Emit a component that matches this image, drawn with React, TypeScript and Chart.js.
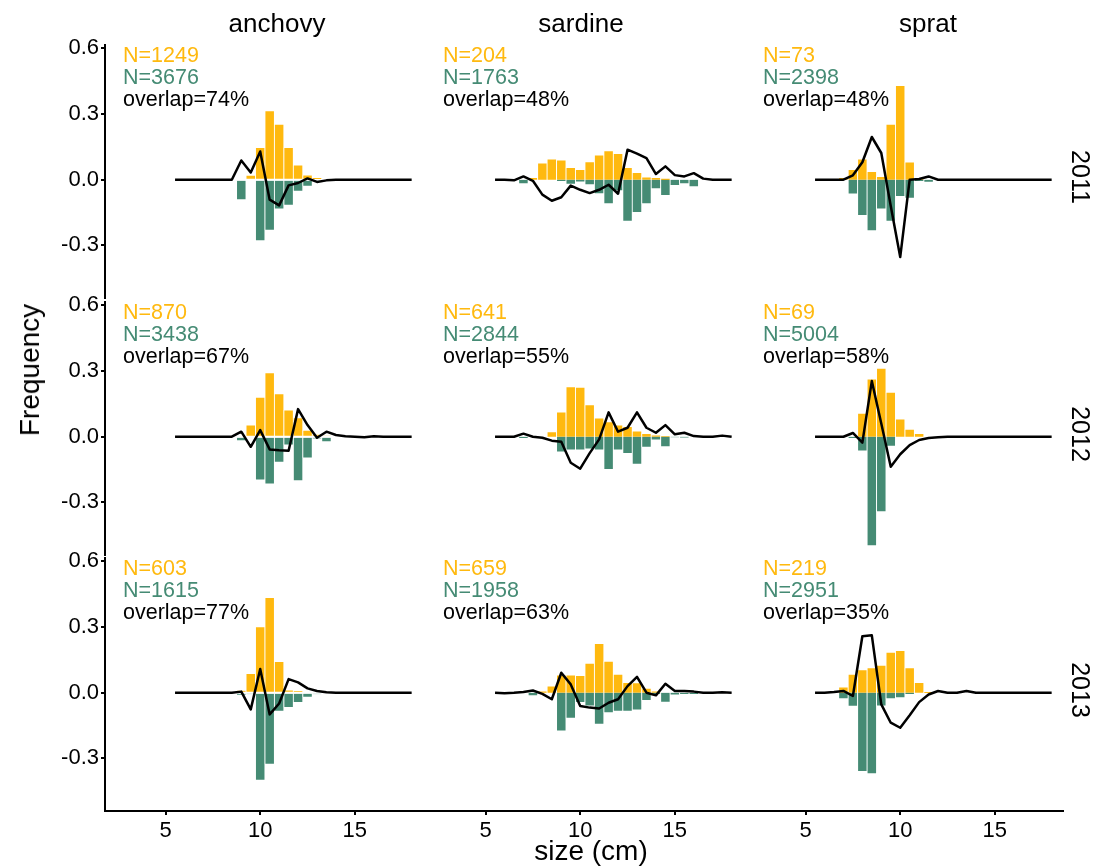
import React, { useEffect, useRef } from 'react';
import { Chart, registerables } from 'chart.js';

Chart.register(...registerables);

// ---------- data ----------
const sizes = [5.5, 6, 6.5, 7, 7.5, 8, 8.5, 9, 9.5, 10, 10.5, 11, 11.5, 12, 12.5, 13, 13.5, 14, 14.5, 15, 15.5, 16, 16.5, 17, 17.5, 18];
const species = ['anchovy', 'sardine', 'sprat'];
const years = ['2011', '2012', '2013'];
const xTicks = [5, 10, 15];
const yTicks = [-0.3, 0, 0.3, 0.6];

// panel order: row-major (year rows, species columns)
const nYellow = [1249, 204, 73, 870, 641, 69, 603, 659, 219];
const nGreen = [3676, 1763, 2398, 3438, 2844, 5004, 1615, 1958, 2951];
const overlaps = [74, 48, 48, 67, 55, 58, 77, 63, 35];

const anchovy2011Yellow = [0, 0, 0, 0, 0, 0, 0, 0, 0.02, 0.147, 0.315, 0.253, 0.147, 0.067, 0.021, 0.009, 0, 0, 0, 0, 0, 0, 0, 0, 0, 0];
const anchovy2011Green = [0, 0, 0, 0, 0, 0, 0, -0.091, 0, -0.279, -0.23, -0.134, -0.117, -0.053, -0.03, -0.005, 0, 0, 0, 0, 0, 0, 0, 0, 0, 0];
const anchovy2011Line = [0, 0, 0, 0, 0, 0, 0, 0.088, 0.033, 0.129, -0.091, -0.117, -0.026, -0.015, 0.006, -0.01, -0.003, 0, 0, 0, 0, 0, 0, 0, 0, 0];

const sardine2011Yellow = [0, 0, 0, 0, 0.01, 0.076, 0.094, 0.09, 0.056, 0.046, 0.082, 0.113, 0.132, 0.119, 0.056, 0.033, 0.012, 0.01, 0.006, 0, 0, 0, 0, 0, 0, 0];
const sardine2011Green = [0, 0, 0, -0.018, 0, 0, 0, -0.008, -0.02, -0.01, -0.023, -0.064, -0.11, -0.05, -0.19, -0.149, -0.11, -0.041, -0.072, -0.026, -0.018, -0.032, 0, 0, 0, 0];
const sardine2011Line = [0, 0, -0.003, 0.015, -0.005, -0.068, -0.096, -0.08, -0.027, -0.046, -0.061, -0.046, -0.023, -0.064, 0.137, 0.119, 0.099, 0.026, 0.061, 0.021, 0.015, 0.03, 0.005, 0, 0, 0];

const sprat2011Yellow = [0, 0, 0, 0.01, 0.046, 0.094, 0.037, 0.015, 0.253, 0.43, 0.081, 0.005, 0, 0, 0, 0, 0, 0, 0, 0, 0, 0, 0, 0, 0, 0];
const sprat2011Green = [0, 0, 0, 0, -0.065, -0.163, -0.233, -0.134, -0.19, -0.076, -0.084, -0.008, -0.012, 0, 0, 0, 0, 0, 0, 0, 0, 0, 0, 0, 0, 0];
const sprat2011Line = [0, 0, 0, 0, 0.02, 0.08, 0.195, 0.122, -0.12, -0.353, 0, 0.003, 0.015, 0, 0, 0, 0, 0, 0, 0, 0, 0, 0, 0, 0, 0];

const anchovy2012Yellow = [0, 0, 0, 0, 0, 0, 0, 0, 0.053, 0.18, 0.292, 0.196, 0.122, 0.087, 0.029, 0.01, 0.004, 0, 0, 0, 0, 0, 0, 0, 0, 0];
const anchovy2012Green = [0, 0, 0, 0, 0, 0, 0, -0.018, 0, -0.198, -0.216, -0.117, -0.038, -0.201, -0.097, -0.008, -0.023, 0, 0, 0, 0, 0, 0, 0, 0, 0];
const anchovy2012Line = [0, 0, 0, 0, 0, 0, 0, 0.023, -0.046, 0.03, -0.058, -0.062, -0.064, 0.126, 0.053, -0.005, 0.023, 0.008, 0.002, 0, -0.002, 0.002, 0, 0, 0, 0];

const sardine2012Yellow = [0, 0, 0, 0, 0, 0, 0.023, 0.113, 0.228, 0.226, 0.146, 0.085, 0.068, 0.053, 0.046, 0.026, 0.015, 0.008, 0.003, 0, 0, 0, 0, 0, 0, 0];
const sardine2012Green = [0, 0, 0, -0.008, 0, 0, 0, -0.07, -0.061, -0.061, -0.056, -0.061, -0.149, -0.061, -0.076, -0.125, -0.048, -0.015, -0.046, -0.003, -0.005, 0, 0, 0, 0, 0];
const sardine2012Line = [0, 0, 0, 0.014, 0, -0.005, -0.018, -0.023, -0.119, -0.146, -0.075, -0.012, 0.111, 0.023, 0.041, 0.111, 0.041, 0.018, 0.053, 0.011, 0.018, 0.003, 0, 0, 0.005, 0];

const sprat2012Yellow = [0, 0, 0, 0, 0, 0.107, 0.263, 0.312, 0.203, 0.081, 0.034, 0.014, 0, 0, 0, 0, 0, 0, 0, 0, 0, 0, 0, 0, 0, 0];
const sprat2012Green = [0, 0, 0, 0, -0.008, -0.065, -0.498, -0.342, -0.043, 0, 0, 0, 0, 0, 0, 0, 0, 0, 0, 0, 0, 0, 0, 0, 0, 0];
const sprat2012Line = [0, 0, 0, 0, 0.017, -0.027, 0.254, 0.06, -0.137, -0.08, -0.038, -0.015, -0.006, -0.003, 0, 0, 0, 0, 0, 0, 0, 0, 0, 0, 0, 0];

const anchovy2013Yellow = [0, 0, 0, 0, 0, 0, 0, 0.01, 0.088, 0.301, 0.435, 0.142, 0.012, 0.006, 0, 0, 0, 0, 0, 0, 0, 0, 0, 0, 0, 0];
const anchovy2013Green = [0, 0, 0, 0, 0, 0, 0, -0.011, -0.006, -0.399, -0.327, -0.085, -0.067, -0.044, -0.02, -0.006, 0, 0, 0, 0, 0, 0, 0, 0, 0, 0];
const anchovy2013Line = [0, 0, 0, 0, 0, 0, 0, 0.005, -0.076, 0.108, -0.099, -0.049, 0.062, 0.047, 0.02, 0.008, 0.002, 0, 0, 0, 0, 0, 0, 0, 0, 0];

const sardine2013Yellow = [0, 0, 0, 0, 0, 0.008, 0.031, 0.081, 0.081, 0.079, 0.134, 0.224, 0.143, 0.084, 0.046, 0.045, 0.02, 0.008, 0, 0, 0, 0, 0, 0, 0, 0];
const sardine2013Green = [0, 0, 0, 0, -0.014, 0, 0, -0.175, -0.117, -0.045, -0.06, -0.144, -0.091, -0.084, -0.084, -0.079, -0.035, -0.008, -0.043, -0.01, -0.008, -0.008, 0, 0, 0, 0];
const sardine2013Line = [0, -0.002, 0, 0.003, 0.01, -0.005, -0.03, 0.091, 0.038, -0.061, -0.068, -0.072, -0.046, -0.03, 0.03, 0.072, 0, -0.012, 0.041, 0.008, 0.008, 0.005, 0, 0, 0.002, 0];

const sprat2013Yellow = [0, 0, 0, 0.026, 0.084, 0.105, 0.114, 0.125, 0.185, 0.193, 0.114, 0.046, 0.004, 0, 0, 0, 0, 0, 0, 0, 0, 0, 0, 0, 0, 0];
const sprat2013Green = [0, 0, 0, -0.027, -0.062, -0.359, -0.37, -0.061, -0.027, -0.023, -0.008, 0, 0, 0, 0, 0, 0, 0, 0, 0, 0, 0, 0, 0, 0, 0];
const sprat2013Line = [0, 0, 0.003, 0.008, -0.015, 0.258, 0.262, -0.053, -0.137, -0.16, -0.103, -0.043, -0.008, 0.008, 0, 0, 0.008, 0, 0, 0, 0, 0, 0, 0, 0, 0];

const yellowSeries = [anchovy2011Yellow, sardine2011Yellow, sprat2011Yellow, anchovy2012Yellow, sardine2012Yellow, sprat2012Yellow, anchovy2013Yellow, sardine2013Yellow, sprat2013Yellow];
const greenSeries = [anchovy2011Green, sardine2011Green, sprat2011Green, anchovy2012Green, sardine2012Green, sprat2012Green, anchovy2013Green, sardine2013Green, sprat2013Green];
const lineSeries = [anchovy2011Line, sardine2011Line, sprat2011Line, anchovy2012Line, sardine2012Line, sprat2012Line, anchovy2013Line, sardine2013Line, sprat2013Line];

// ---------- layout / style ----------
const YELLOW = '#FFB90F';
const GREEN = '#458B74';
const FONT = '"Liberation Sans", Arial, Helvetica, sans-serif';
const X_MIN = 1.8, X_MAX = 18.6, Y_MIN = -0.54, Y_MAX = 0.615;
const colLeft = [105, 425, 745];
const rowTop = [45, 302, 558];
const PW = 318, PH = 253, M = 16, YW = 50, XH = 40;
const stripCenters = [277, 581, 928];

function Panel({ idx }: { idx: number }) {
  const ref = useRef<HTMLCanvasElement | null>(null);
  const r = Math.floor(idx / 3);
  const c = idx % 3;
  const showY = c === 0;
  const showX = r === 2;
  const left = colLeft[c] - M - (showY ? YW : 0);
  const top = rowTop[r] - M;
  const w = PW + 2 * M + (showY ? YW : 0);
  const h = PH + 2 * M + (showX ? XH : 0);

  useEffect(() => {
    if (!ref.current) return;
    const chart = new Chart(ref.current, {
      type: 'bar',
      data: {
        datasets: [
          {
            type: 'line',
            data: sizes.map((x, i) => ({ x, y: lineSeries[idx][i] })),
            borderColor: '#000',
            borderWidth: 2.5,
            pointRadius: 0,
            tension: 0,
            borderJoinStyle: 'round',
            order: 0,
          } as any,
          {
            type: 'bar',
            data: sizes.map((x, i) => ({ x, y: yellowSeries[idx][i] })),
            backgroundColor: YELLOW,
            borderColor: '#ffffff',
            borderWidth: 0.8,
            grouped: false,
            barPercentage: 1,
            categoryPercentage: 1,
            order: 2,
          } as any,
          {
            type: 'bar',
            data: sizes.map((x, i) => ({ x, y: greenSeries[idx][i] })),
            backgroundColor: GREEN,
            borderColor: '#ffffff',
            borderWidth: 0.8,
            grouped: false,
            barPercentage: 1,
            categoryPercentage: 1,
            order: 1,
          } as any,
        ],
      },
      options: {
        responsive: false,
        animation: false,
        events: [],
        devicePixelRatio: 1,
        layout: { padding: M },
        plugins: { legend: { display: false }, tooltip: { enabled: false } },
        scales: {
          x: {
            type: 'linear',
            min: X_MIN,
            max: X_MAX,
            offset: false,
            display: showX,
            afterBuildTicks: (s: any) => { s.ticks = xTicks.map((v) => ({ value: v })); },
            afterFit: (s: any) => { if (showX) s.height = XH; },
            grid: { display: true, offset: false, drawOnChartArea: false, drawTicks: true, tickLength: 4, color: '#000', lineWidth: 2 },
            border: { display: true, color: '#000', width: 2 },
            ticks: { font: { family: FONT, size: 22 }, color: '#000', padding: 3, maxRotation: 0, callback: (v: any) => String(v) },
          },
          y: {
            type: 'linear',
            min: Y_MIN,
            max: Y_MAX,
            display: showY,
            afterBuildTicks: (s: any) => { s.ticks = yTicks.map((v) => ({ value: v })); },
            afterFit: (s: any) => { if (showY) s.width = YW; },
            grid: { display: true, offset: false, drawOnChartArea: false, drawTicks: true, tickLength: 4, color: '#000', lineWidth: 2 },
            border: { display: true, color: '#000', width: 2 },
            ticks: { font: { family: FONT, size: 22 }, color: '#000', padding: 2, callback: (v: any) => Number(v).toFixed(1) },
          },
        },
      } as any,
    });
    return () => chart.destroy();
  }, [idx]);

  return (
    <canvas
      ref={ref}
      width={w}
      height={h}
      style={{ position: 'absolute', left, top, width: w, height: h }}
    />
  );
}

export default function App() {
  const panels = [0, 1, 2, 3, 4, 5, 6, 7, 8];
  return (
    <div style={{ position: 'absolute', left: 0, top: 0, width: 1096, height: 867, background: '#fff', overflow: 'hidden', fontFamily: FONT }}>
      {panels.map((i) => <Panel key={i} idx={i} />)}
      {panels.map((i) => {
        const r = Math.floor(i / 3);
        const c = i % 3;
        return (
          <div key={'t' + i} style={{ position: 'absolute', left: colLeft[c] + 18, top: rowTop[r] - 1, fontSize: 21.5, lineHeight: '22px', whiteSpace: 'nowrap' }}>
            <div style={{ color: YELLOW }}>N={nYellow[i]}</div>
            <div style={{ color: GREEN }}>N={nGreen[i]}</div>
            <div style={{ color: '#000' }}>overlap={overlaps[i]}%</div>
          </div>
        );
      })}
      {species.map((s, c) => (
        <div key={s} style={{ position: 'absolute', left: stripCenters[c] - 100, width: 200, top: 8, textAlign: 'center', fontSize: 26, lineHeight: '30px', color: '#000' }}>{s}</div>
      ))}
      {years.map((y, r) => (
        <div key={y} style={{ position: 'absolute', left: 1081, top: rowTop[r] + PH / 2 + 5, transform: 'translate(-50%, -50%) rotate(90deg)', fontSize: 25, lineHeight: '28px', color: '#000', whiteSpace: 'nowrap' }}>{y}</div>
      ))}
      <div style={{ position: 'absolute', left: 30, top: 370, transform: 'translate(-50%, -50%) rotate(-90deg)', fontSize: 28, lineHeight: '32px', color: '#000', whiteSpace: 'nowrap' }}>Frequency</div>
      <div style={{ position: 'absolute', left: 491, width: 200, top: 835, textAlign: 'center', fontSize: 28, lineHeight: '32px', color: '#000', whiteSpace: 'nowrap' }}>size (cm)</div>
    </div>
  );
}
